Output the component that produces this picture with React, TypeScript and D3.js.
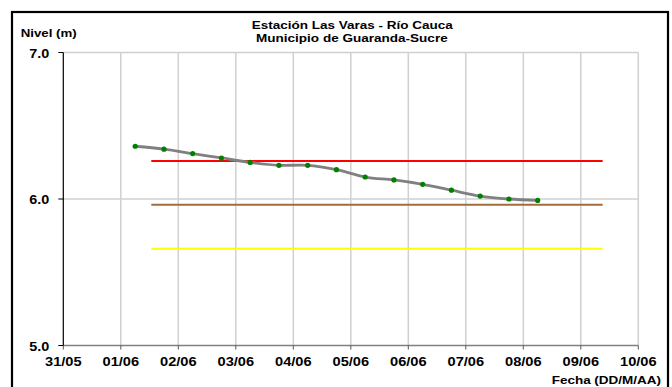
import React from "react";
import * as d3 from "d3";

const dayOffsets = [1.25, 1.75, 2.25, 2.75, 3.25, 3.75, 4.25, 4.75, 5.25, 5.75, 6.25, 6.75, 7.25, 7.75, 8.25];
const levels = [6.36, 6.34, 6.31, 6.28, 6.25, 6.23, 6.23, 6.2, 6.15, 6.13, 6.1, 6.06, 6.02, 6.0, 5.99];
const tickLabels = ["31/05", "01/06", "02/06", "03/06", "04/06", "05/06", "06/06", "07/06", "08/06", "09/06", "10/06"];
const yTicks = [5, 6, 7];
const thresholdStart = 1.53;
const thresholdEnd = 9.38;
const thresholds = [
  { value: 6.26, color: "#FF0000" },
  { value: 5.96, color: "#A66B3C" },
  { value: 5.66, color: "#FFFF00" },
];

export default function App() {
  const W = 672, H = 387;
  const x = d3.scaleLinear().domain([0, 10]).range([63.3, 638.3]);
  const y = d3.scaleLinear().domain([5, 7]).range([345.5, 52.5]);
  const pts = dayOffsets.map((d, i) => [x(d), y(levels[i])] as [number, number]);
  const line = d3.line().curve(d3.curveCatmullRom.alpha(0.5))(pts) || "";
  const font = "'Liberation Sans', Arial, sans-serif";
  return (
    <svg width={W} height={H} style={{ position: "absolute", left: 0, top: 0 }} fontFamily={font}>
      <rect x={0} y={0} width={W} height={H} fill="#fff" />
      <rect x={12} y={12} width={656} height={390} fill="#fff" stroke="#000" strokeWidth={2.2} />
      {/* vertical gridlines */}
      {tickLabels.map((t, i) =>
        i > 0 ? (
          <line key={"g" + i} x1={x(i)} x2={x(i)} y1={y(7)} y2={y(5)} stroke="#D0D0D0" strokeWidth={1.5} />
        ) : null
      )}
      {yTicks.slice(1).map((v) => (
        <line key={"h" + v} x1={x(0)} x2={x(10)} y1={y(v)} y2={y(v)} stroke="#D0D0D0" strokeWidth={1.5} />
      ))}
      {/* threshold lines */}
      {thresholds.map((t) => (
        <line key={t.color} x1={x(thresholdStart)} x2={x(thresholdEnd)} y1={y(t.value)} y2={y(t.value)} stroke={t.color} strokeWidth={2} />
      ))}
      {/* axes */}
      <line x1={x(0)} x2={x(10)} y1={y(5)} y2={y(5)} stroke="#808080" strokeWidth={1.5} />
      {tickLabels.map((t, i) => (
        <g key={"xt" + i}>
          <line x1={x(i)} x2={x(i)} y1={y(5)} y2={y(5) + 4} stroke="#555" strokeWidth={1} />
          <text x={x(i) - 18.3} y={365.5} textLength={36.6} lengthAdjust="spacingAndGlyphs" fontSize={12.5} fontWeight="bold" fill="#000">{t}</text>
        </g>
      ))}
      <line x1={x(0)} x2={x(0)} y1={y(7)} y2={y(5)} stroke="#000" strokeWidth={1.2} />
      {yTicks.map((v) => (
        <g key={"yt" + v}>
          <line x1={x(0) - 5} x2={x(0)} y1={y(v)} y2={y(v)} stroke="#000" strokeWidth={1} />
          <text x={29.3} y={y(v) + 5} textLength={20} lengthAdjust="spacingAndGlyphs" fontSize={12} fontWeight="bold" fill="#000">{v.toFixed(1)}</text>
        </g>
      ))}
      {/* data */}
      <path d={line} fill="none" stroke="#808080" strokeWidth={2.8} />
      {pts.map((p, i) => (
        <circle key={"p" + i} cx={p[0]} cy={p[1]} r={2.6} fill="#008000" />
      ))}
      {/* titles */}
      <text x={251.7} y={29} textLength={201} lengthAdjust="spacingAndGlyphs" fontSize={11.3} fontWeight="bold">Estación Las Varas - Río Cauca</text>
      <text x={256} y={41.7} textLength={191.7} lengthAdjust="spacingAndGlyphs" fontSize={11.3} fontWeight="bold">Municipio de Guaranda-Sucre</text>
      <text x={20.7} y={37.3} textLength={56} lengthAdjust="spacingAndGlyphs" fontSize={11.3} fontWeight="bold">Nivel (m)</text>
      <text x={551.7} y={384.3} textLength={109.3} lengthAdjust="spacingAndGlyphs" fontSize={11.3} fontWeight="bold">Fecha (DD/M/AA)</text>
    </svg>
  );
}
